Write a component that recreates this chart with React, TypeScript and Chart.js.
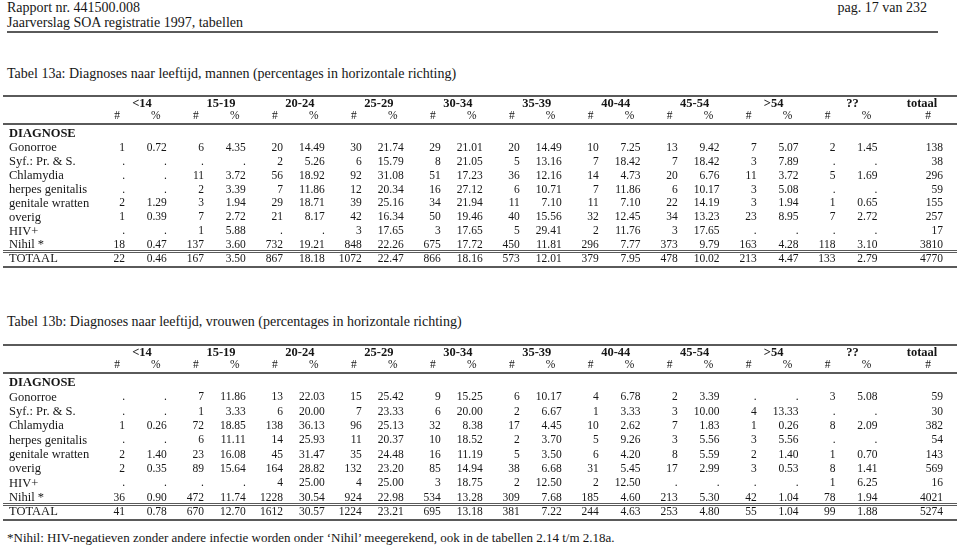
import React, { useEffect, useRef } from "react";
import { Chart, registerables } from "chart.js";

Chart.register(...registerables);

// ---------- DATA ----------
const ageGroups = ["<14", "15-19", "20-24", "25-29", "30-34", "35-39", "40-44", "45-54", ">54", "??"];
const totalColLabel = "totaal";
const sectionLabel = "DIAGNOSE";
const rowLabels = [
  "Gonorroe",
  "Syf.: Pr. & S.",
  "Chlamydia",
  "herpes genitalis",
  "genitale wratten",
  "overig",
  "HIV+",
  "Nihil *",
  "TOTAAL",
];

type V = number | null;

// Tabel 13a: mannen
const menCounts: V[][] = [
  [1, 6, 20, 30, 29, 20, 10, 13, 7, 2],
  [null, null, 2, 6, 8, 5, 7, 7, 3, null],
  [null, 11, 56, 92, 51, 36, 14, 20, 11, 5],
  [null, 2, 7, 12, 16, 6, 7, 6, 3, null],
  [2, 3, 29, 39, 34, 11, 11, 22, 3, 1],
  [1, 7, 21, 42, 50, 40, 32, 34, 23, 7],
  [null, 1, null, 3, 3, 5, 2, 3, null, null],
  [18, 137, 732, 848, 675, 450, 296, 373, 163, 118],
  [22, 167, 867, 1072, 866, 573, 379, 478, 213, 133],
];
const menPercents: V[][] = [
  [0.72, 4.35, 14.49, 21.74, 21.01, 14.49, 7.25, 9.42, 5.07, 1.45],
  [null, null, 5.26, 15.79, 21.05, 13.16, 18.42, 18.42, 7.89, null],
  [null, 3.72, 18.92, 31.08, 17.23, 12.16, 4.73, 6.76, 3.72, 1.69],
  [null, 3.39, 11.86, 20.34, 27.12, 10.71, 11.86, 10.17, 5.08, null],
  [1.29, 1.94, 18.71, 25.16, 21.94, 7.1, 7.1, 14.19, 1.94, 0.65],
  [0.39, 2.72, 8.17, 16.34, 19.46, 15.56, 12.45, 13.23, 8.95, 2.72],
  [null, 5.88, null, 17.65, 17.65, 29.41, 11.76, 17.65, null, null],
  [0.47, 3.6, 19.21, 22.26, 17.72, 11.81, 7.77, 9.79, 4.28, 3.1],
  [0.46, 3.5, 18.18, 22.47, 18.16, 12.01, 7.95, 10.02, 4.47, 2.79],
];
const menTotals: number[] = [138, 38, 296, 59, 155, 257, 17, 3810, 4770];

// Tabel 13b: vrouwen
const womenCounts: V[][] = [
  [null, 7, 13, 15, 9, 6, 4, 2, null, 3],
  [null, 1, 6, 7, 6, 2, 1, 3, 4, null],
  [1, 72, 138, 96, 32, 17, 10, 7, 1, 8],
  [null, 6, 14, 11, 10, 2, 5, 3, 3, null],
  [2, 23, 45, 35, 16, 5, 6, 8, 2, 1],
  [2, 89, 164, 132, 85, 38, 31, 17, 3, 8],
  [null, null, 4, 4, 3, 2, 2, null, null, 1],
  [36, 472, 1228, 924, 534, 309, 185, 213, 42, 78],
  [41, 670, 1612, 1224, 695, 381, 244, 253, 55, 99],
];
const womenPercents: V[][] = [
  [null, 11.86, 22.03, 25.42, 15.25, 10.17, 6.78, 3.39, null, 5.08],
  [null, 3.33, 20.0, 23.33, 20.0, 6.67, 3.33, 10.0, 13.33, null],
  [0.26, 18.85, 36.13, 25.13, 8.38, 4.45, 2.62, 1.83, 0.26, 2.09],
  [null, 11.11, 25.93, 20.37, 18.52, 3.7, 9.26, 5.56, 5.56, null],
  [1.4, 16.08, 31.47, 24.48, 11.19, 3.5, 4.2, 5.59, 1.4, 0.7],
  [0.35, 15.64, 28.82, 23.2, 14.94, 6.68, 5.45, 2.99, 0.53, 1.41],
  [null, null, 25.0, 25.0, 18.75, 12.5, 12.5, null, null, 6.25],
  [0.9, 11.74, 30.54, 22.98, 13.28, 7.68, 4.6, 5.3, 1.04, 1.94],
  [0.78, 12.7, 30.57, 23.21, 13.18, 7.22, 4.63, 4.8, 1.04, 1.88],
];
const womenTotals: number[] = [59, 30, 382, 54, 143, 569, 16, 4021, 5274];

// ---------- LAYOUT ----------
const PCT_OFFSET = 0.53; // % column, in age-group units after the # column
const TOTAL_POS = 10.36; // totaal column position, in age-group units
const FONT = '"Liberation Serif", "Times New Roman", serif';
const TEXT = "#161616";
const RULE = "#5a5a5a";
const TY = 1; // text baseline nudge

type Cell = { x: number; y: number; text: string };

function buildCells(counts: V[][], pcts: V[][], totals: number[]): Cell[] {
  const cells: Cell[] = [];
  counts.forEach((row, r) => {
    row.forEach((v, g) => {
      cells.push({ x: g, y: r + 1, text: v == null ? "." : String(v) });
      const p = pcts[r][g];
      cells.push({ x: g + PCT_OFFSET, y: r + 1, text: p == null ? "." : p.toFixed(2) });
    });
    cells.push({ x: TOTAL_POS, y: r + 1, text: String(totals[r]) });
  });
  return cells;
}

const tablePlugin = {
  id: "tableText",
  afterDatasetsDraw(chart: any) {
    const { ctx, scales } = chart;
    const xs = scales.x;
    const ys = scales.y;
    const W = chart.width;
    ctx.save();
    ctx.fillStyle = TEXT;
    ctx.textBaseline = "middle";

    const y0 = ys.getPixelForValue(0);
    const yTot = ys.getPixelForValue(rowLabels.length);

    // rules
    ctx.strokeStyle = RULE;
    const hline = (y: number, w: number) => {
      ctx.lineWidth = w;
      ctx.beginPath();
      ctx.moveTo(3, y);
      ctx.lineTo(W - 3, y);
      ctx.stroke();
    };
    hline(y0 - 37, 2);
    hline(y0 - 9, 2);
    hline(yTot - 7.5, 1);
    hline(yTot - 5.5, 1);
    hline(yTot + 9, 2);

    // group headers
    ctx.font = `bold 12.5px ${FONT}`;
    ctx.textAlign = "center";
    ageGroups.forEach((g, i) => {
      ctx.fillText(g, xs.getPixelForValue(i) + 17, y0 - 30 + TY);
    });
    ctx.fillText(totalColLabel, xs.getPixelForValue(TOTAL_POS) - 21, y0 - 30 + TY);

    // # / % sub headers
    ctx.font = `11.5px ${FONT}`;
    ageGroups.forEach((_, i) => {
      ctx.fillText("#", xs.getPixelForValue(i) - 8, y0 - 18 + TY);
      ctx.fillText("%", xs.getPixelForValue(i + PCT_OFFSET) - 11, y0 - 18 + TY);
    });
    ctx.fillText("#", xs.getPixelForValue(TOTAL_POS) - 15, y0 - 18 + TY);

    // row labels
    ctx.textAlign = "left";
    ctx.font = `bold 12.5px ${FONT}`;
    ctx.fillText(sectionLabel, 9, y0 + TY);
    ctx.font = `12.5px ${FONT}`;
    rowLabels.forEach((lab, r) => {
      ctx.fillText(lab, 9, ys.getPixelForValue(r + 1) + TY);
    });

    // cells from dataset elements
    const meta = chart.getDatasetMeta(0);
    const data = chart.data.datasets[0].data as Cell[];
    ctx.font = `11.5px ${FONT}`;
    ctx.textAlign = "right";
    meta.data.forEach((el: any, i: number) => {
      ctx.fillText(data[i].text, el.x, el.y + TY);
    });
    ctx.restore();
  },
};

type TableProps = {
  top: number;
  height: number;
  firstRowY: number;
  lastRowY: number;
  counts: V[][];
  pcts: V[][];
  totals: number[];
};

function TableChart({ top, height, firstRowY, lastRowY, counts, pcts, totals }: TableProps) {
  const ref = useRef<HTMLCanvasElement | null>(null);
  useEffect(() => {
    if (!ref.current) return;
    const chart = new Chart(ref.current, {
      type: "scatter",
      data: {
        datasets: [
          {
            data: buildCells(counts, pcts, totals) as any,
            pointRadius: 0,
            pointHoverRadius: 0,
            showLine: false,
            clip: false as any,
          },
        ],
      },
      options: {
        animation: false,
        responsive: false,
        events: [],
        layout: {
          padding: { left: 125, right: 17, top: firstRowY - top, bottom: top + height - lastRowY },
        },
        scales: {
          x: { type: "linear", min: 0, max: TOTAL_POS, display: false },
          y: { type: "linear", min: 0, max: rowLabels.length, reverse: true, display: false },
        },
        plugins: { legend: { display: false }, tooltip: { enabled: false } },
      },
      plugins: [tablePlugin],
    });
    return () => chart.destroy();
  }, []);
  return (
    <canvas
      ref={ref}
      width={960}
      height={height}
      style={{ position: "absolute", left: 0, top, width: 960, height }}
    />
  );
}

const textStyle: React.CSSProperties = {
  position: "absolute",
  fontFamily: FONT,
  fontSize: 14,
  lineHeight: "16px",
  color: TEXT,
  whiteSpace: "nowrap",
  margin: 0,
};

export default function App() {
  return (
    <div style={{ position: "absolute", left: 0, top: 0, width: 960, height: 549, background: "#fff", overflow: "hidden" }}>
      <div style={{ ...textStyle, left: 7, top: 0 }}>Rapport nr. 441500.008</div>
      <div style={{ ...textStyle, left: 7, top: 15 }}>Jaarverslag SOA registratie 1997, tabellen</div>
      <div style={{ ...textStyle, right: 33, top: 0 }}>pag. 17 van 232</div>
      <div style={{ position: "absolute", left: 7, top: 31, width: 931, height: 2, background: RULE }} />
      <div style={{ ...textStyle, left: 7, top: 66 }}>
        Tabel 13a: Diagnoses naar leeftijd, mannen (percentages in horizontale richting)
      </div>
      <TableChart top={86} height={188} firstRowY={133} lastRowY={258} counts={menCounts} pcts={menPercents} totals={menTotals} />
      <div style={{ ...textStyle, left: 7, top: 314 }}>
        Tabel 13b: Diagnoses naar leeftijd, vrouwen (percentages in horizontale richting)
      </div>
      <TableChart top={336} height={188} firstRowY={382} lastRowY={511} counts={womenCounts} pcts={womenPercents} totals={womenTotals} />
      <div style={{ ...textStyle, left: 7, top: 530, fontSize: 13 }}>
        *Nihil: HIV-negatieven zonder andere infectie worden onder ‘Nihil’ meegerekend, ook in de tabellen 2.14 t/m 2.18a.
      </div>
    </div>
  );
}
